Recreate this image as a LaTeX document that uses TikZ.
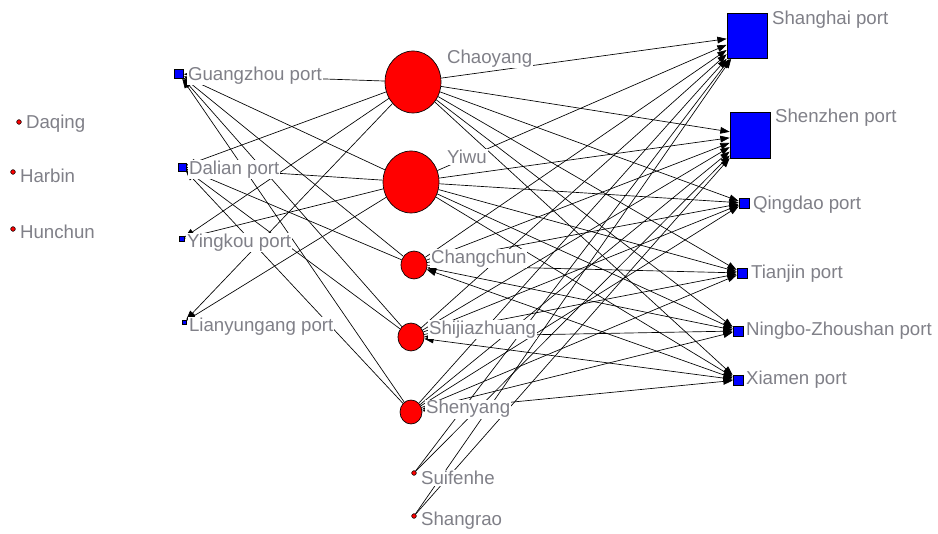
\documentclass[tikz,border=0pt]{standalone}
\usepackage{xcolor}
\usepackage{fontspec}
\setmainfont{Liberation Sans}
\usepackage{tikz}
\usetikzlibrary{shapes.geometric, arrows.meta, positioning}
\definecolor{cityred}{RGB}{255, 0, 0}
\definecolor{portblue}{RGB}{0, 0, 255}
\definecolor{labelgray}{RGB}{128, 128, 136}

\begin{document}
\begin{tikzpicture}[
    x=0.75pt, y=-0.75pt,
    city/.style={ellipse, draw=black, fill=cityred, inner sep=0pt, line width=0.5pt},
    dot/.style={circle, draw=black, fill=cityred, inner sep=0pt, minimum size=3.5pt, line width=0.4pt},
    port/.style={rectangle, draw=black, fill=portblue, inner sep=0pt, line width=0.5pt},
    tag/.style={anchor=west, text=labelgray, fill=white, inner sep=0.6pt, font=\fontsize{14}{16}\selectfont},
    flow/.style={draw=black, line width=0.5pt, -{Triangle[length=7pt, width=5pt]}},
    twoway/.style={draw=black, line width=0.5pt, {Triangle[length=7pt, width=5pt]}-{Triangle[length=7pt, width=5pt]}}
]
    \useasboundingbox (0,0) rectangle (938,534);

    % Isolated cities
    \node[dot] (dq) at (19, 122) {};
    \node[dot] (hb) at (13, 172) {};
    \node[dot] (hc) at (13, 229) {};

    % Left ports
    \node[port, minimum size=6.75pt] (gz) at (179, 74) {};
    \node[port, minimum size=6pt] (dl) at (182, 167) {};
    \node[port, minimum size=3.75pt] (yk) at (182, 239) {};
    \node[port, minimum size=3pt] (ly) at (184, 322) {};

    % Inland cities
    \node[city, minimum width=42pt, minimum height=46.5pt] (cy) at (413, 82) {};
    \node[city, minimum width=42pt, minimum height=46.5pt] (yw) at (411, 182) {};
    \node[city, minimum width=19.5pt, minimum height=21pt] (cc) at (414, 265) {};
    \node[city, minimum width=19.5pt, minimum height=21pt] (sj) at (411, 337) {};
    \node[city, minimum width=16.5pt, minimum height=18pt] (sy) at (411, 412) {};
    \node[dot] (sf) at (414, 473) {};
    \node[dot] (sr) at (414, 516) {};

    % Right ports
    \node[port, minimum width=30pt, minimum height=33.75pt] (sh) at (747, 36) {};
    \node[port, minimum width=30pt, minimum height=34.5pt] (sz) at (750, 135) {};
    \node[port, minimum size=7.5pt] (qd) at (744, 203) {};
    \node[port, minimum size=7.5pt] (tj) at (742, 273) {};
    \node[port, minimum size=7.5pt] (nb) at (738, 331) {};
    \node[port, minimum size=7.5pt] (xm) at (738, 380) {};

    % Flows to the left ports
    \path[flow] (cy) edge (gz) edge (dl) edge (yk) edge (ly);
    \path[flow] (yw) edge (gz) edge (dl) edge (yk) edge (ly);
    \path[flow] (cc) edge (gz) edge (dl);
    \path[flow] (sj) edge (gz) edge (dl);
    \path[flow] (sy) edge (gz) edge (dl);

    % Flows to the right ports
    \path[flow] (cy) edge (sh) edge (sz) edge (qd) edge (tj) edge (nb) edge (xm);
    \path[flow] (yw) edge (sh) edge (sz) edge (qd) edge (tj) edge (nb) edge (xm);
    \path[flow] (cc) edge (sh) edge (sz) edge (qd) edge (tj);
    \path[twoway] (cc) edge (nb) edge (xm);
    \path[flow] (sj) edge (sh) edge (sz) edge (qd) edge (tj);
    \path[twoway] (sj) edge (nb) edge (xm);
    \path[flow] (sy) edge (sh) edge (sz) edge (qd) edge (tj);
    \path[twoway] (sy) edge (nb) edge (xm);
    \path[flow] (sf) edge (sh) edge (sz);
    \path[flow] (sr) edge (sh) edge (sz);

    % Labels
    \node[tag] (dq-l) at (25, 124) {Daqing};
    \node[tag] (hb-l) at (19, 176) {Harbin};
    \node[tag] (hc-l) at (19, 232) {Hunchun};
    \node[tag] (gz-l) at (187, 76) {Guangzhou port};
    \node[tag] (dl-l) at (188, 170) {Dalian port};
    \node[tag] (yk-l) at (186, 243) {Yingkou port};
    \node[tag] (ly-l) at (188, 327) {Lianyungang port};
    \node[tag] (cy-l) at (446, 59) {Chaoyang};
    \node[tag] (yw-l) at (446, 157) {Yiwu};
    \node[tag] (cc-l) at (430, 259) {Changchun};
    \node[tag] (sj-l) at (428, 330) {Shijiazhuang};
    \node[tag] (sy-l) at (425, 409) {Shenyang};
    \node[tag] (sf-l) at (420, 478) {Suifenhe};
    \node[tag] (sr-l) at (420, 521) {Shangrao};
    \node[tag] (sh-l) at (771, 20) {Shanghai port};
    \node[tag] (sz-l) at (774, 118) {Shenzhen port};
    \node[tag] (qd-l) at (752, 205) {Qingdao port};
    \node[tag] (tj-l) at (750, 274) {Tianjin port};
    \node[tag] (nb-l) at (745, 331) {Ningbo-Zhoushan port};
    \node[tag] (xm-l) at (745, 380) {Xiamen port};
\end{tikzpicture}
\end{document}
